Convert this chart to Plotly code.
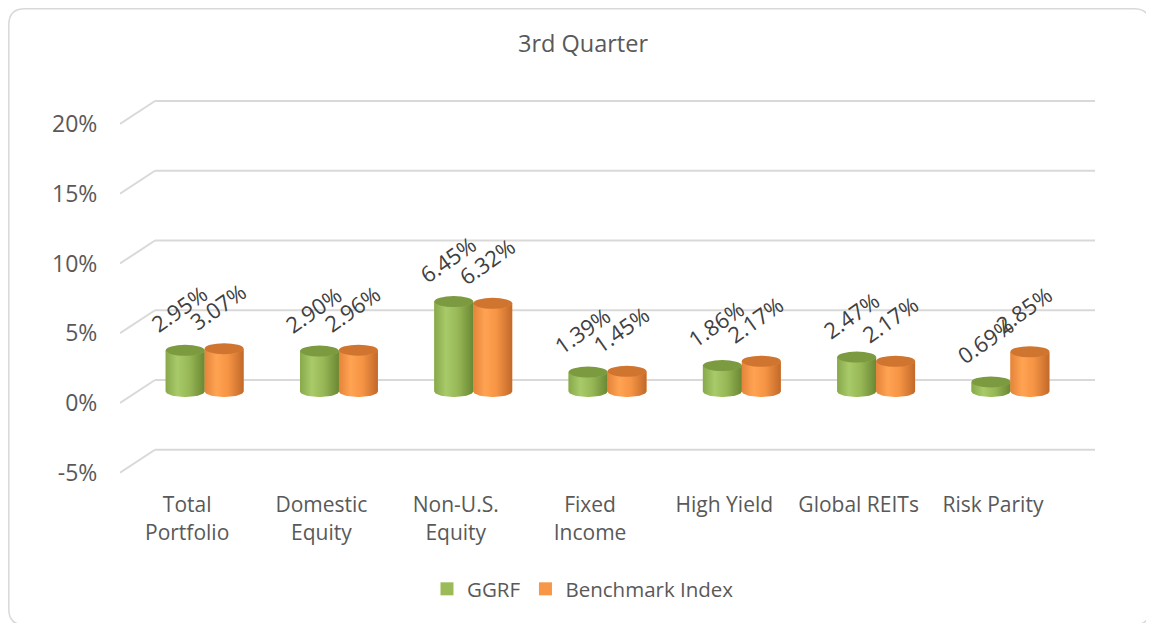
import numpy as np
import plotly.graph_objects as go

# ---------------- data ----------------
categories = ["Total<br>Portfolio", "Domestic<br>Equity", "Non-U.S.<br>Equity", "Fixed<br>Income",
              "High Yield", "Global REITs", "Risk Parity"]
ggrf = [2.95, 2.90, 6.45, 1.39, 1.86, 2.47, 0.69]
benchmark = [3.07, 2.96, 6.32, 1.45, 2.17, 2.17, 2.85]
y_ticks = [-5, 0, 5, 10, 15, 20]
y_tick_labels = ["-5%", "0%", "5%", "10%", "15%", "20%"]
series_names = ["GGRF", "Benchmark Index"]

# ---------------- geometry / style ----------------
W, H = 1154, 623
OFF = 8  # page body margin compensation
L, T = 120 - OFF, 90 - OFF
PR, PB = 1095 - OFF, 480 - OFF
R, B = W - PR, H - PB
xr = [-0.5, 6.76]
yr = [-5.52, 22.44]
px_x = (PR - L) / (xr[1] - xr[0])
px_y = (PB - T) / (yr[1] - yr[0])
dx = 35 / px_x          # depth shift in x units
dy = 23 / px_y          # depth shift in y units
base = dy / 2           # bars sit mid-depth
bw = 0.29
ry = 5.5 / px_y
offsets = [dx / 2 - bw, dx / 2]
side_colors = ["#9BBB59", "#F79646"]
top_colors = ["#7C9B41", "#D0752F"]
grads = [
    [[0, "#88A94A"], [0.3, "#A9CA69"], [0.6, "#98B857"], [1, "#6A8833"]],
    [[0, "#E4843A"], [0.3, "#FFA352"], [0.6, "#F59444"], [1, "#C2692A"]],
]
txt = "#595959"
grid = "#D9D9D9"
font = "Open Sans"

fig = go.Figure()
xs = np.arange(len(categories))
all_vals = [ggrf, benchmark]

shapes = []
# back-wall gridlines with depth diagonals
for v in y_ticks:
    shapes.append(dict(type="line", xref="x", yref="y", x0=xr[0] + dx, x1=xr[1],
                       y0=v + dy, y1=v + dy, line=dict(color=grid, width=2), layer="below"))
    shapes.append(dict(type="line", xref="x", yref="y", x0=xr[0], x1=xr[0] + dx,
                       y0=v, y1=v + dy, line=dict(color=grid, width=2), layer="below"))

for s, vals in enumerate(all_vals):
    fig.add_trace(go.Bar(
        x=xs, y=vals, base=base, name=series_names[s], width=bw, offset=offsets[s],
        marker=dict(color=side_colors[s], line=dict(width=0)), showlegend=False,
        hovertemplate="%{y:.2f}%<extra>" + series_names[s] + "</extra>"))
    for j, v in enumerate(vals):
        x0 = xs[j] + offsets[s]
        x1 = x0 + bw
        xc = (x0 + x1) / 2
        top = v + base
        th = np.linspace(np.pi, 2 * np.pi, 30)
        bx = xc + (bw / 2) * np.cos(th)
        by = base + ry * np.sin(th)
        tx = bx[::-1]
        ty = top + ry * np.sin(th[::-1])
        px_ = np.concatenate([bx, tx, bx[:1]])
        py_ = np.concatenate([by, ty, by[:1]])
        fig.add_trace(go.Scatter(
            x=px_, y=py_, mode="lines", fill="toself", line=dict(width=0),
            fillgradient=dict(type="horizontal", colorscale=grads[s]),
            showlegend=False, hoverinfo="skip"))
        shapes.append(dict(type="circle", xref="x", yref="y", x0=x0, x1=x1,
                           y0=top - ry, y1=top + ry, fillcolor=top_colors[s],
                           line=dict(width=0), layer="above"))
        fig.add_annotation(x=xc, y=top + ry, text=f"{v:.2f}%", showarrow=False,
                           textangle=-35, xanchor="center", yanchor="bottom",
                           xshift=-6, yshift=4,
                           font=dict(family=font, size=22, color="#404040"))

# legend entries (square swatches)
for s in range(2):
    fig.add_trace(go.Scatter(x=[None], y=[None], mode="markers", name=series_names[s],
                             marker=dict(symbol="square", size=13, color=side_colors[s],
                                         line=dict(width=0)),
                             showlegend=True, hoverinfo="skip"))

# outer rounded border (figure pixel -> paper)
def P(xp, yp):
    return f"{(xp - L) / (PR - L):.5f},{(PB - yp) / (PB - T):.5f}"

r = 16
x0b, y0b, x1b, y1b = 0.8, 0.8, 1142, 617
path = (f"M {P(x0b + r, y0b)} L {P(x1b - r, y0b)} Q {P(x1b, y0b)} {P(x1b, y0b + r)} "
        f"L {P(x1b, y1b - r)} Q {P(x1b, y1b)} {P(x1b - r, y1b)} "
        f"L {P(x0b + r, y1b)} Q {P(x0b, y1b)} {P(x0b, y1b - r)} "
        f"L {P(x0b, y0b + r)} Q {P(x0b, y0b)} {P(x0b + r, y0b)} Z")
shapes.append(dict(type="path", xref="paper", yref="paper", path=path,
                   line=dict(color=grid, width=1.5), layer="below"))

fig.update_layout(
    width=W, height=H,
    margin=dict(l=L, r=R, t=T, b=B, autoexpand=False),
    paper_bgcolor="white", plot_bgcolor="rgba(0,0,0,0)",
    title=dict(text="3rd Quarter", x=575 / W, xref="container", xanchor="center",
               y=1 - 36 / H, yref="container", yanchor="middle",
               font=dict(family=font, size=23.5, color=txt)),
    barmode="overlay",
    showlegend=True,
    legend=dict(orientation="h", x=(575 - L) / (PR - L), xanchor="center",
                y=(PB - 581) / (PB - T), yanchor="middle", itemsizing="trace",
                font=dict(family=font, size=20.5, color=txt), traceorder="normal"),
    shapes=shapes,
    xaxis=dict(range=xr, tickvals=list(xs), ticktext=categories, showgrid=False,
               zeroline=False, showline=False, ticks="outside", ticklen=6,
               tickcolor="rgba(0,0,0,0)", tickfont=dict(family=font, size=21, color=txt),
               fixedrange=True),
    yaxis=dict(range=yr, tickvals=y_ticks, ticktext=y_tick_labels, showgrid=False,
               zeroline=False, showline=False, ticks="outside", ticklen=17,
               tickcolor="rgba(0,0,0,0)", tickfont=dict(family=font, size=23, color=txt),
               fixedrange=True),
)

fig.write_html("out.html")
